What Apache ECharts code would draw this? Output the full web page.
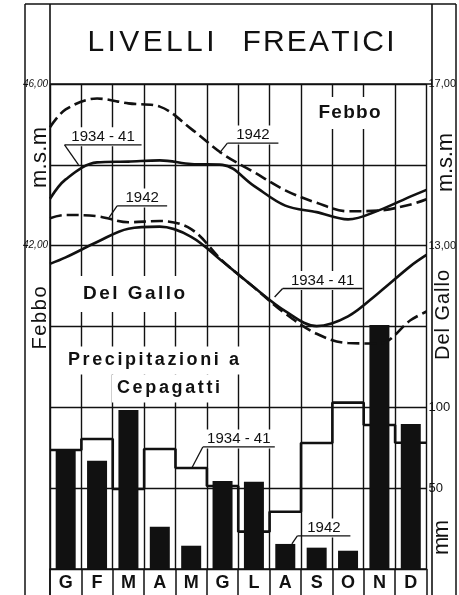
<!DOCTYPE html>
<html>
<head>
<meta charset="utf-8">
<script src="https://cdn.jsdelivr.net/npm/echarts@6/dist/echarts.min.js"></script>
<style>
  html, body { margin: 0; padding: 0; background: #fff; }
  #chart { width: 459px; height: 595px; }
</style>
</head>
<body>
<div id="chart"></div>
<script>
// Monthly groundwater levels (m s.l.m.) of the Febbo and Del Gallo wells,
// and monthly rainfall at Cepagatti (mm).
const months = ['G', 'F', 'M', 'A', 'M', 'G', 'L', 'A', 'S', 'O', 'N', 'D'];

// Levels: first entry = start of January, then one value per month, last entry = end of December.
const febboMedia    = [43.16, 43.64, 44.06, 44.08, 44.11, 44.02, 44.00, 43.48, 42.99, 42.83, 42.65, 42.88, 43.22, 43.38];
const febbo1942     = [44.93, 45.37, 45.64, 45.52, 45.44, 44.89, 44.27, 43.82, 43.37, 43.06, 42.85, 42.87, 43.02, 43.15];
const delGalloMedia = [12.55, 12.71, 13.09, 13.42, 13.47, 13.22, 12.61, 11.97, 11.38, 11.01, 11.25, 11.85, 12.50, 12.77];
const delGallo1942  = [13.68, 13.76, 13.73, 13.58, 13.61, 13.41, 12.62, 11.97, 11.32, 10.82, 10.59, 10.58, 11.16, 11.37];

// Rainfall at Cepagatti (mm)
const pioggia1942  = [73.6, 67.0, 98.3, 26.2, 14.4, 54.4, 54.0, 15.5, 13.2, 11.3, 150.9, 89.7];
const pioggiaMedia = [73.6, 80.4, 49.5, 74.2, 62.5, 51.3, 23.1, 35.4, 77.9, 102.9, 89.1, 78.1];

// Tick labels shown on the axes
const febboTicks = [46, 42];
const delGalloTicks = [17, 13];
const mmTicks = [100, 50];

const INK = '#111';
const FONT = '"Liberation Sans", "Noto Sans", sans-serif';

// x positions of the level curves, in months from 1 January
const levelX = [0, ...months.map((_, i) => i + 0.5), 12];
const pairs = (vals) => vals.map((v, i) => [levelX[i], v]);

// stepped rainfall mean: one flat segment per month
const stepData = pioggiaMedia.map((v, i) => [i, v]).concat([[12, pioggiaMedia[pioggiaMedia.length - 1]]]);

const comma = (v) => v.toFixed(2).replace('.', ',');

const chart = echarts.init(document.getElementById('chart'), null, { renderer: 'canvas' });

const levelLine = (name, data, yAxisIndex, dashed) => ({
  type: 'line', name, xAxisIndex: 1, yAxisIndex, data: pairs(data),
  smooth: 0.35, symbol: 'none', silent: true, z: 4,
  lineStyle: { color: INK, width: 2.6, type: dashed ? [12, 5] : 'solid', cap: 'butt' }
});

chart.setOption({
  backgroundColor: '#fff',
  animation: false,
  grid: { left: 50, right: 27, top: 84, bottom: 26 },
  xAxis: [
    {
      type: 'category', data: months, boundaryGap: true,
      axisLine: { show: true, lineStyle: { color: INK, width: 1.5 } },
      axisTick: { show: true, length: 26, lineStyle: { color: INK, width: 1.5 } },
      axisLabel: { color: INK, fontSize: 18, fontWeight: 'bold', fontFamily: FONT, margin: 14, verticalAlign: 'middle' },
      splitLine: { show: true, lineStyle: { color: INK, width: 1.4 } }
    },
    { type: 'value', min: 0, max: 12, show: false }
  ],
  yAxis: [
    {
      type: 'value', position: 'left', min: 34, max: 46, interval: 2,
      axisLine: { show: false }, axisTick: { show: false },
      splitLine: { show: true, lineStyle: { color: INK, width: 1.4 } },
      axisLabel: {
        margin: 2, fontSize: 10, color: INK, fontStyle: 'italic', fontFamily: FONT,
        formatter: (v) => febboTicks.includes(v) ? comma(v) : ''
      }
    },
    {
      type: 'value', position: 'right', min: 5, max: 17, interval: 1,
      axisLine: { show: false }, axisTick: { show: false }, splitLine: { show: false },
      axisLabel: {
        margin: 2, fontSize: 11, color: INK, fontFamily: FONT,
        formatter: (v) => delGalloTicks.includes(v) ? comma(v) : ''
      }
    },
    {
      type: 'value', position: 'right', min: 0, max: 300, interval: 50,
      axisLine: { show: false }, axisTick: { show: false }, splitLine: { show: false },
      axisLabel: {
        margin: 2, fontSize: 13, color: INK, fontFamily: FONT,
        formatter: (v) => mmTicks.includes(v) ? String(v) : ''
      }
    }
  ],
  series: [
    {
      type: 'bar', name: '1942', xAxisIndex: 0, yAxisIndex: 2, data: pioggia1942,
      barWidth: 20, itemStyle: { color: INK }, silent: true, z: 3
    },
    {
      type: 'line', name: '1934-41', xAxisIndex: 1, yAxisIndex: 2, data: stepData,
      step: 'end', symbol: 'none', silent: true, z: 2,
      lineStyle: { color: INK, width: 2.6 }
    },
    levelLine('Febbo 1934-41', febboMedia, 0, false),
    levelLine('Febbo 1942', febbo1942, 0, true),
    levelLine('Del Gallo 1934-41', delGalloMedia, 1, false),
    levelLine('Del Gallo 1942', delGallo1942, 1, true)
  ]
});

// text with even letter spacing over a given width, optionally rotated
const measureCtx = document.createElement('canvas').getContext('2d');
function spacedText(str, cx, cy, width, font, opts = {}) {
  measureCtx.font = font;
  const chars = [...str];
  const ws = chars.map((c) => measureCtx.measureText(c).width);
  const natural = ws.reduce((a, b) => a + b, 0);
  const gap = chars.length > 1 ? (width - natural) / (chars.length - 1) : 0;
  const children = [];
  if (opts.bg) {
    const [px, py, h] = opts.bg;
    children.push({
      type: 'rect', shape: { x: -width / 2 - px, y: -h / 2 - py, width: width + 2 * px, height: h + 2 * py },
      style: { fill: '#fff' }
    });
  }
  let x = -width / 2;
  chars.forEach((c, i) => {
    children.push({
      type: 'text', x: x + ws[i] / 2, y: 0,
      style: { text: c, font, fill: INK, align: 'center', verticalAlign: 'middle' }
    });
    x += ws[i] + gap;
  });
  return { type: 'group', x: cx, y: cy, rotation: opts.rotation || 0, children, z: 5 };
}

const seg = (x1, y1, x2, y2, w, z) => ({
  type: 'line', shape: { x1, y1, x2, y2 }, style: { stroke: INK, lineWidth: w || 1.5 }, z: z || 8
});

// callouts: tip sits on the curve (month position, axis value), label above a short rule
const callouts = [
  { text: '1934 - 41', series: 2, x: 0.91, v: 44.00, dx: -14, dy: -20, w: 77 },
  { text: '1942',      series: 3, x: 5.40, v: 44.29, dx: 8,   dy: -10, w: 51 },
  { text: '1942',      series: 5, x: 1.885, v: 13.70, dx: 8,  dy: -11.5, w: 50 },
  { text: '1934 - 41', series: 4, x: 7.16, v: 11.73, dx: 8,   dy: -8.5, w: 80 },
  { text: '1934 - 41', series: 1, x: 4.52, v: 62.5, dx: 11,   dy: -21, w: 72 },
  { text: '1942',      series: 1, x: 7.71, v: 15.5, dx: 5.5,  dy: -8,  w: 53 }
];

const R = Math.PI / 2;
const graphics = [
  // outer frame and title box
  seg(25, 4, 456, 4, 1.5, 9),
  seg(25, 4, 25, 595, 1.5, 9),
  seg(456, 4, 456, 595, 1.5, 9),
  seg(50, 4, 50, 595, 1.6, 9),
  seg(432, 4, 432, 595, 1.6, 9),
  seg(50, 84, 432, 84, 1.5, 9),

  spacedText('LIVELLI', 151, 43, 127, '30px ' + FONT),
  spacedText('FREATICI', 318.5, 43, 152, '30px ' + FONT),

  spacedText('Febbo', 349.5, 113, 62, 'bold 19px ' + FONT, { bg: [4, 8, 16] }),
  spacedText('Del Gallo', 134, 294, 102, 'bold 19px ' + FONT, { bg: [5, 10, 16] }),
  spacedText('Precipitazioni a', 153.5, 360.5, 171, 'bold 18px ' + FONT, { bg: [5, 6, 16] }),
  spacedText('Cepagatti', 168.5, 388.5, 103, 'bold 18px ' + FONT, { bg: [5, 6, 16] }),

  spacedText('m.s.m', 40, 157.5, 61, '22px ' + FONT, { rotation: R }),
  spacedText('Febbo', 40, 318, 63, '20px ' + FONT, { rotation: R }),
  spacedText('m.s.m', 446, 162.5, 59, '22px ' + FONT, { rotation: R }),
  spacedText('Del Gallo', 443, 315, 90, '20px ' + FONT, { rotation: R }),
  spacedText('mm', 442, 537.5, 35, '22px ' + FONT, { rotation: R })
];

callouts.forEach((c) => {
  const [tx, ty] = chart.convertToPixel({ seriesIndex: c.series }, [c.x, c.v]);
  const lx = tx + c.dx, ly = ty + c.dy;
  graphics.push({
    type: 'text', x: lx + c.w / 2, y: ly - 8, z: 6,
    style: {
      text: c.text, font: '15px ' + FONT, fill: INK, align: 'center', verticalAlign: 'middle',
      backgroundColor: '#fff', padding: [3, 3, 1, 3]
    }
  });
  graphics.push(seg(lx, ly, lx + c.w, ly, 1.3, 7));
  graphics.push(seg(tx, ty, lx, ly, 1.3, 7));
});

chart.setOption({ graphic: graphics });
</script>
</body>
</html>
